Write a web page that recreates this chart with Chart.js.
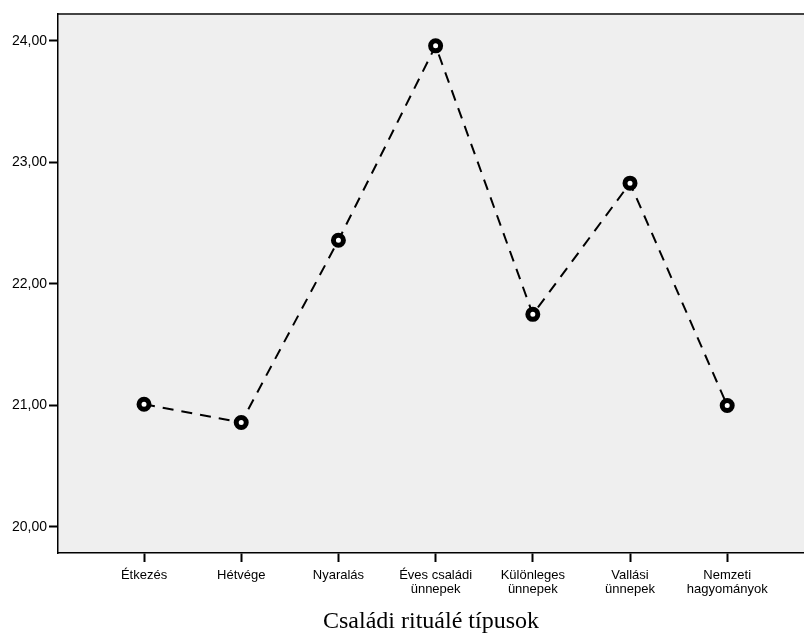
<!DOCTYPE html>
<html lang="hu">
<head>
<meta charset="UTF-8">
<title>Családi rituálé típusok</title>
<script src="https://cdn.jsdelivr.net/npm/chart.js"></script>
<style>
  html, body {
    margin: 0;
    padding: 0;
    background: #fff;
    overflow: hidden;
  }
  .wrap {
    width: 804px;
    height: 636px;
  }
  canvas {
    display: block;
  }
</style>
</head>
<body>
<div class="wrap"><canvas id="chart" width="804" height="636"></canvas></div>
<script>
const categories = [
  ["Étkezés"],
  ["Hétvége"],
  ["Nyaralás"],
  ["Éves családi", "ünnepek"],
  ["Különleges", "ünnepek"],
  ["Vallási", "ünnepek"],
  ["Nemzeti", "hagyományok"]
];
const values = [21.01, 20.86, 22.36, 23.96, 21.75, 22.83, 21.00];
const yTicks = [20, 21, 22, 23, 24];

const points = values.map((v, i) => ({ x: i, y: v }));

// grey plot background + top frame line
const plotFrame = {
  id: 'plotFrame',
  beforeDraw(chart) {
    const { ctx, chartArea: a } = chart;
    ctx.save();
    ctx.fillStyle = '#efefef';
    ctx.fillRect(a.left, a.top, a.right - a.left, a.bottom - a.top);
    ctx.strokeStyle = '#444';
    ctx.lineWidth = 2;
    ctx.beginPath();
    ctx.moveTo(a.left, a.top);
    ctx.lineTo(a.right, a.top);
    ctx.stroke();
    ctx.restore();
  }
};

new Chart(document.getElementById('chart'), {
  type: 'line',
  data: {
    datasets: [{
      data: points,
      borderColor: '#000',
      borderWidth: 2,
      borderDash: [11, 8],
      pointRadius: 5,
      pointBorderWidth: 5,
      pointBackgroundColor: '#fff',
      pointBorderColor: '#000',
      tension: 0
    }]
  },
  options: {
    responsive: false,
    animation: false,
    layout: { autoPadding: false, padding: { top: 14, right: 0, left: 0, bottom: 0 } },
    plugins: {
      legend: { display: false },
      tooltip: { enabled: false }
    },
    scales: {
      x: {
        type: 'linear',
        min: -0.885,
        max: 6.79,
        afterBuildTicks: s => { s.ticks = categories.map((c, i) => ({ value: i })); },
        afterFit: s => { s.height = 83; s.paddingLeft = 0; s.paddingRight = 0; },
        ticks: {
          autoSkip: false,
          maxRotation: 0,
          color: '#000',
          padding: 6,
          font: { family: 'Liberation Sans, Arial', size: 13, lineHeight: 1.1 },
          callback: v => categories[v]
        },
        grid: {
          drawOnChartArea: false,
          tickLength: 9,
          tickWidth: 2,
          tickColor: '#000'
        },
        border: { color: '#000', width: 1.5 },
        title: {
          display: true,
          text: 'Családi rituálé típusok',
          color: '#000',
          font: { family: 'Liberation Serif, Times New Roman', size: 24 },
          padding: { top: 6, bottom: 0 }
        }
      },
      y: {
        min: 19.786,
        max: 24.222,
        afterBuildTicks: s => { s.ticks = yTicks.map(v => ({ value: v })); },
        afterFit: s => { s.width = 58; },
        ticks: {
          color: '#000',
          padding: 2,
          font: { family: 'Liberation Sans, Arial', size: 14 },
          callback: v => v.toFixed(2).replace('.', ',')
        },
        grid: {
          drawOnChartArea: false,
          tickLength: 9,
          tickWidth: 2,
          tickColor: '#000'
        },
        border: { color: '#000', width: 1.5 }
      }
    }
  },
  plugins: [plotFrame]
});
</script>
</body>
</html>
